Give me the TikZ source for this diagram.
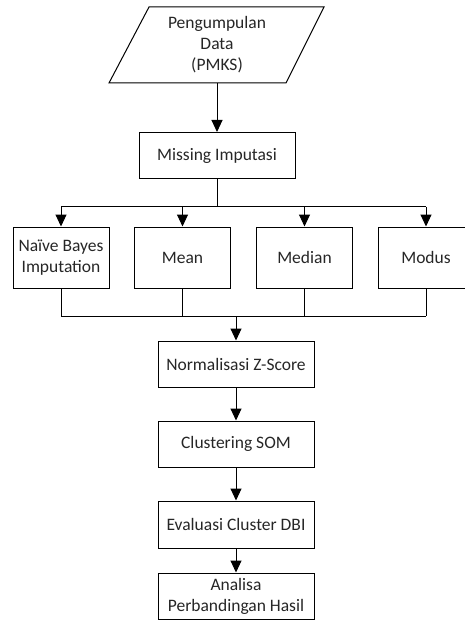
\documentclass[tikz,border=0pt]{standalone}
\usepackage{fontspec}
\setmainfont{Carlito}
\usetikzlibrary{arrows.meta}
\begin{document}
\begin{tikzpicture}[x=1pt,y=-1pt,
  every node/.style={font=\fontsize{17.5}{21}\selectfont, text=black!85, align=center, inner sep=0pt},
  box/.style={draw, line width=1pt, rectangle, minimum width=156pt, minimum height=46pt},
  sbox/.style={draw, line width=1pt, rectangle, minimum width=96pt, minimum height=61pt},
  line/.style={line width=1pt},
  arr/.style={line width=1pt, -{Triangle[width=11pt,length=12pt]}}]
\useasboundingbox (0,0) rectangle (465,620);
% input parallelogram
\draw[line] (109,83) -- (149,7) -- (324,7) -- (286,83) -- cycle;
\node (data) at (217,45) {Pengumpulan\\Data\\(PMKS)};
\coordinate (pb) at (217,83);
\node[box] (miss) at (217,155.5) {Missing Imputasi};
\draw[arr] (pb) -- (miss.north);
% branch
\coordinate (br) at (217,207);
\node[sbox] (nb) at (61,257.5) {Naïve Bayes\\Imputation};
\node[sbox] (mean) at (182.5,257.5) {Mean};
\node[sbox] (med) at (304.5,257.5) {Median};
\node[sbox] (mod) at (426,257.5) {Modus};
\draw[line] (miss.south) -- (br);
\draw[line] (nb.north |- br) -- (mod.north |- br);
\foreach \n in {nb,mean,med,mod} \draw[arr] (\n.north |- br) -- (\n.north);
% join
\coordinate (jn) at (236,316);
\draw[line] (nb.south |- jn) -- (mod.south |- jn);
\foreach \n in {nb,mean,med,mod} \draw[line] (\n.south) -- (\n.south |- jn);
\node[box] (norm) at (236,364) {Normalisasi Z-Score};
\draw[arr] (jn) -- (norm.north);
\node[box] (clus) at (236,444) {Clustering SOM};
\node[box, minimum height=47pt] (eval) at (236,524.5) {Evaluasi Cluster DBI};
\node[box] (anal) at (236,596) {Analisa\\Perbandingan Hasil};
\draw[arr] (norm) -- (clus);
\draw[arr] (clus) -- (eval);
\draw[arr] (eval) -- (anal);
\end{tikzpicture}
\end{document}
